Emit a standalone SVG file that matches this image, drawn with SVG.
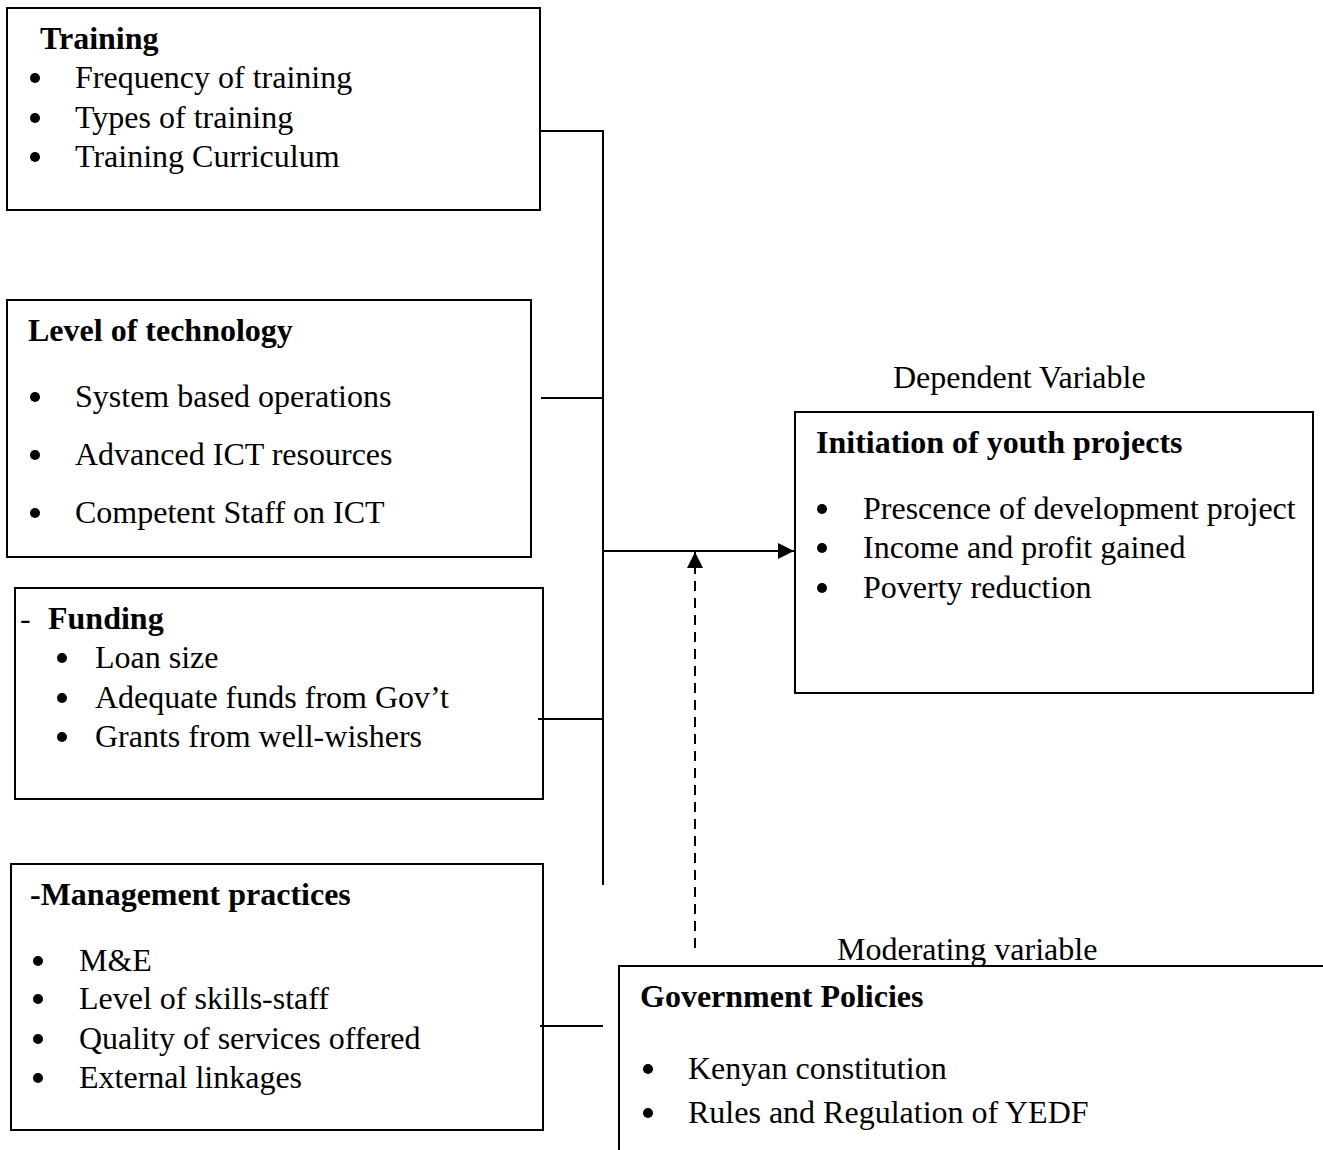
<svg xmlns="http://www.w3.org/2000/svg" width="1323" height="1150" viewBox="0 0 1323 1150">
<defs>
<style>
.box{fill:none;stroke:#000;stroke-width:2}
.ln{fill:none;stroke:#000;stroke-width:2}
.t{font-family:"Liberation Serif","Times New Roman",serif;font-size:32px;fill:#000}
.b{font-weight:bold}
.dot{fill:#000}
</style>
<marker id="ah2" viewBox="0 0 16 16" refX="16" refY="8" markerWidth="16" markerHeight="16" markerUnits="userSpaceOnUse" orient="auto">
<path d="M0,0 L16,8 L0,16 z" fill="#000"/>
</marker>
</defs>
<rect width="1323" height="1150" fill="#fff"/>
<g id="connectors">
<line class="ln" x1="540" y1="131" x2="603" y2="131"/>
<line class="ln" x1="603" y1="130" x2="603" y2="885"/>
<line class="ln" x1="541" y1="398" x2="603" y2="398"/>
<line class="ln" x1="538" y1="719" x2="603" y2="719"/>
<line class="ln" x1="540" y1="1026" x2="603" y2="1026"/>
<line class="ln" x1="603" y1="551" x2="794" y2="551" marker-end="url(#ah2)"/>
<line class="ln" x1="695" y1="948" x2="695" y2="552" stroke-width="2.5" stroke-dasharray="10,7" marker-end="url(#ah2)"/>
</g>
<g id="training">
<rect class="box" x="7" y="8" width="533" height="202"/>
<text class="t b" x="40" y="49">Training</text>
<circle class="dot" cx="35" cy="78" r="5"/><text class="t" x="75" y="88">Frequency of training</text>
<circle class="dot" cx="35" cy="118" r="5"/><text class="t" x="75" y="128">Types of training</text>
<circle class="dot" cx="35" cy="157" r="5"/><text class="t" x="75" y="167">Training Curriculum</text>
</g>
<g id="technology">
<rect class="box" x="7" y="300" width="524" height="257"/>
<text class="t b" x="28" y="341">Level of technology</text>
<circle class="dot" cx="35" cy="397" r="5"/><text class="t" x="75" y="407">System based operations</text>
<circle class="dot" cx="35" cy="455" r="5"/><text class="t" x="75" y="465">Advanced ICT resources</text>
<circle class="dot" cx="35" cy="513" r="5"/><text class="t" x="75" y="523">Competent Staff on ICT</text>
</g>
<g id="funding">
<rect class="box" x="15" y="588" width="528" height="211"/>
<text class="t" x="20" y="629">-</text>
<text class="t b" x="48" y="629">Funding</text>
<circle class="dot" cx="62" cy="658" r="5"/><text class="t" x="95" y="668">Loan size</text>
<circle class="dot" cx="62" cy="698" r="5"/><text class="t" x="95" y="708">Adequate funds from Gov’t</text>
<circle class="dot" cx="62" cy="737" r="5"/><text class="t" x="95" y="747">Grants from well-wishers</text>
</g>
<g id="management">
<rect class="box" x="11" y="864" width="532" height="266"/>
<text class="t b" x="30" y="905">-Management practices</text>
<circle class="dot" cx="38" cy="961" r="5"/><text class="t" x="79" y="971">M&amp;E</text>
<circle class="dot" cx="38" cy="999" r="5"/><text class="t" x="79" y="1009">Level of skills-staff</text>
<circle class="dot" cx="38" cy="1039" r="5"/><text class="t" x="79" y="1049">Quality of services offered</text>
<circle class="dot" cx="38" cy="1078" r="5"/><text class="t" x="79" y="1088">External linkages</text>
</g>
<g id="dependent">
<text class="t" x="893" y="388">Dependent Variable</text>
<rect class="box" x="795" y="412" width="518" height="281"/>
<text class="t b" x="816" y="453">Initiation of youth projects</text>
<circle class="dot" cx="822" cy="509" r="5"/><text class="t" x="863" y="519">Prescence of development project</text>
<circle class="dot" cx="822" cy="548" r="5"/><text class="t" x="863" y="558">Income and profit gained</text>
<circle class="dot" cx="822" cy="588" r="5"/><text class="t" x="863" y="598">Poverty reduction</text>
</g>
<g id="moderating">
<text class="t" x="837" y="960">Moderating variable</text>
<path class="box" d="M619,1150 L619,966 L1323,966"/>
<text class="t b" x="640" y="1007">Government Policies</text>
<circle class="dot" cx="648" cy="1069" r="5"/><text class="t" x="688" y="1079">Kenyan constitution</text>
<circle class="dot" cx="648" cy="1113" r="5"/><text class="t" x="688" y="1123">Rules and Regulation of YEDF</text>
</g>
</svg>
